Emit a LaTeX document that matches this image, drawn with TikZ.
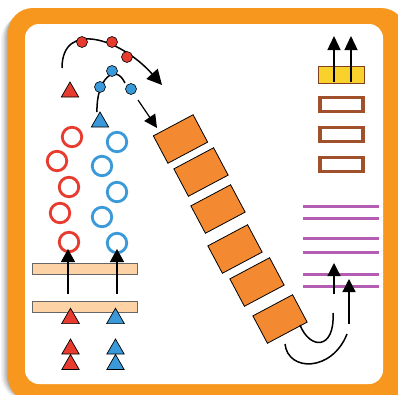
\documentclass[tikz,border=0pt]{standalone}
\usetikzlibrary{arrows.meta,shapes.geometric}
\definecolor{frameor}{HTML}{F7971E}
\definecolor{redc}{HTML}{E63B2E}
\definecolor{bluec}{HTML}{3A9AD9}
\definecolor{boxor}{HTML}{F38A31}
\definecolor{peach}{HTML}{FDD3A5}
\definecolor{brownc}{HTML}{A0502A}
\definecolor{yellowc}{HTML}{F8D12C}
\definecolor{purplec}{HTML}{B35DB3}
\begin{document}
\begin{tikzpicture}[x=1pt,y=-1pt,
  tri/.style={regular polygon, regular polygon sides=3, minimum size=20pt, inner sep=0pt, draw=black, line width=0.7pt},
  dot/.style={circle, minimum size=11pt, inner sep=0pt, draw=black, line width=0.6pt},
  ring/.style={circle, minimum size=19.5pt, inner sep=0pt, line width=2.8pt},
  blk/.style={-{Triangle[length=13pt,width=14pt]}, line width=1.4pt},
  curv/.style={line width=1.5pt},
  orect/.style={draw=black, fill=boxor, minimum width=45pt, minimum height=31pt, inner sep=0pt, line width=0.8pt},
  bar/.style={draw=black!60, fill=peach, line width=0.7pt},
  brect/.style={draw=brownc, line width=3.4pt, minimum width=43pt, minimum height=14pt, inner sep=0pt},
  pline/.style={draw=purplec, line width=3pt}
]
\useasboundingbox (0,0) rectangle (398,394);
% shadow
\foreach \i/\o in {0/0.05,1/0.06,2/0.07,3/0.09,4/0.11}{
  \fill[black, opacity=\o, rounded corners=25pt] (1+\i*1.4,15-\i) rectangle (404,400);
}
% frame
\fill[frameor, rounded corners=25pt] (8,8) rectangle (406,402);
\fill[white, rounded corners=14pt] (25,24) rectangle (383,384);

% red arc with dots
\coordinate (ra0) at (62,68);
\coordinate (ra1) at (162,85);
\draw[curv, -{Triangle[length=15pt,width=15pt]}] (ra0) .. controls (62,20) and (120,38) .. (ra1);
\node[dot, fill=redc] (rd1) at (82,42) {};
\node[dot, fill=redc] (rd2) at (112,42) {};
\node[dot, fill=redc] (rd3) at (127,57) {};
\node[tri, fill=redc] (rt) at (70,92) {};

% blue arc with dots
\coordinate (ba0) at (97,112);
\coordinate (ba1) at (125,83);
\draw[curv] (ba0) .. controls (96,80) and (115,62) .. (ba1);
\node[dot, fill=bluec] (bd1) at (100,87) {};
\node[dot, fill=bluec] (bd2) at (112,71) {};
\node[dot, fill=bluec] (bd3) at (131,89) {};
\coordinate (bb0) at (138,100);
\coordinate (bb1) at (157,128);
\draw[line width=1.2pt, -{Triangle[length=13pt,width=13pt]}] (bb0) -- (bb1);
\node[tri, fill=bluec] (bt) at (100,122) {};

% ring columns
\node[ring, draw=redc] (rc1) at (72,137) {};
\node[ring, draw=redc] (rc2) at (57,161) {};
\node[ring, draw=redc] (rc3) at (69,187) {};
\node[ring, draw=redc] (rc4) at (60,213) {};
\node[ring, draw=redc] (rc5) at (69,242) {};
\node[ring, draw=bluec] (bc1) at (117,142) {};
\node[ring, draw=bluec] (bc2) at (102,166) {};
\node[ring, draw=bluec] (bc3) at (117,192) {};
\node[ring, draw=bluec] (bc4) at (102,217) {};
\node[ring, draw=bluec] (bc5) at (117,243) {};

% membrane bars
\draw[bar] (32,263) rectangle (137,274);
\draw[bar] (32,301) rectangle (137,312);
\coordinate (ar0) at (68,294);
\coordinate (ar1) at (68,249);
\coordinate (ab0) at (117,294);
\coordinate (ab1) at (117,249);
\draw[blk] (ar0) -- (ar1);
\draw[blk] (ab0) -- (ab1);

% triangles below
\node[tri, fill=redc, minimum size=20.5pt] (t1) at (70.5,318.5) {};
\node[tri, fill=bluec, minimum size=20.5pt] (t2) at (115.5,318.5) {};
\node[tri, fill=redc] (t3) at (70.5,349) {};
\node[tri, fill=redc] (t4) at (70.5,364.5) {};
\node[tri, fill=bluec] (t5) at (115.5,349) {};
\node[tri, fill=bluec] (t6) at (115.5,364.5) {};

% orange rectangles
\node[orect, rotate=28] (o1) at (180.5,139) {};
\node[orect, rotate=28] (o2) at (201,172) {};
\node[orect, rotate=28] (o3) at (218,209) {};
\node[orect, rotate=28] (o4) at (235,249) {};
\node[orect, rotate=28] (o5) at (257,282) {};
\node[orect, rotate=28] (o6) at (280,319) {};

% right column boxes
\node[draw=brownc!80!black, fill=yellowc, line width=0.9pt, minimum width=46pt, minimum height=17pt, inner sep=0pt] (yb) at (341.5,74.5) {};
\node[brect] (b1) at (341.5,104.5) {};
\node[brect] (b2) at (341.5,134.5) {};
\node[brect] (b3) at (341.5,164.5) {};
\coordinate (ya0) at (334,82);
\coordinate (ya1) at (334,36);
\coordinate (yb0) at (351,82);
\coordinate (yb1) at (351,36);
\draw[line width=1.3pt, -{Triangle[length=14pt,width=13pt]}] (ya0) -- (ya1);
\draw[line width=1.3pt, -{Triangle[length=14pt,width=13pt]}] (yb0) -- (yb1);

% purple lines
\foreach \yy [count=\k] in {206,218,238,252,274,286}{
  \coordinate (pl\k a) at (303,\yy);
  \coordinate (pl\k b) at (379,\yy);
  \draw[pline] (pl\k a) -- (pl\k b);
}

% bottom-right curves and arrows
\coordinate (c1a) at (300,325);
\coordinate (c1b) at (333,313);
\draw[curv] (c1a) .. controls (310,350) and (335,350) .. (c1b);
\coordinate (c2a) at (285,344);
\coordinate (c2b) at (347,334);
\draw[curv] (c2a) .. controls (288,372) and (332,372) .. (c2b);
\coordinate (pa0) at (334,294);
\coordinate (pa1) at (334,263);
\coordinate (pb0) at (349,324);
\coordinate (pb1) at (349,279);
\draw[line width=1.3pt, -{Triangle[length=13pt,width=13pt]}] (pa0) -- (pa1);
\draw[line width=1.3pt, -{Triangle[length=13pt,width=13pt]}] (pb0) -- (pb1);
\end{tikzpicture}
\end{document}
